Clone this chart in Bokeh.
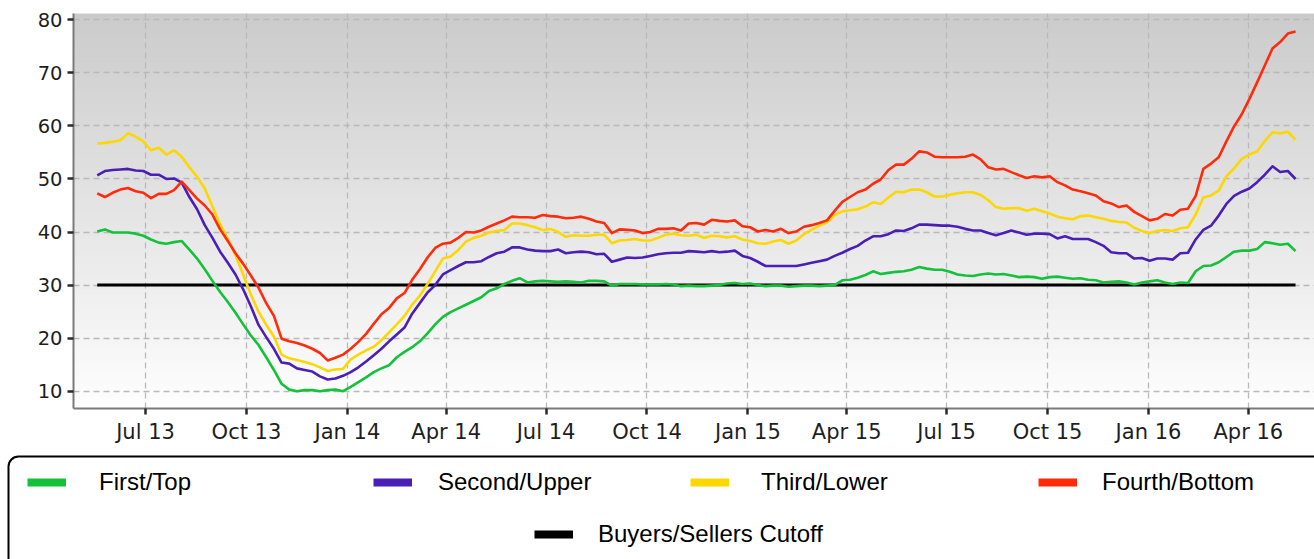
import pandas as pd
from bokeh.plotting import figure
from bokeh.models import (Range1d, FixedTicker, DatetimeTickFormatter, BoxAnnotation,
                          Legend, LegendItem, ColumnDataSource)
from bokeh.core.properties import value
from bokeh.layouts import column
from bokeh.embed import file_html
from bokeh.resources import INLINE

# ---------------- data (weekly readings) ----------------
start_date = "2013-05-18"
n_weeks = 157

first_top = [
    40.1, 40.5, 39.9, 39.9, 39.9, 39.7, 39.3, 38.6, 38.0, 37.8, 38.1, 38.3, 36.7, 35.0, 33.0, 30.8,
    28.7, 26.8, 24.8, 22.6, 20.5, 18.7, 16.4, 14.0, 11.4, 10.3, 10.0, 10.2, 10.2, 10.0, 10.2, 10.3,
    10.0, 10.8, 11.7, 12.6, 13.6, 14.3, 14.9, 16.4, 17.4, 18.3, 19.4, 20.9, 22.6, 24.0, 24.9, 25.6,
    26.3, 27.0, 27.7, 28.9, 29.4, 30.2, 30.8, 31.3, 30.5, 30.7, 30.8, 30.7, 30.6, 30.7, 30.6, 30.5,
    30.8, 30.8, 30.7, 29.9, 30.2, 30.2, 30.2, 30.1, 30.1, 30.1, 30.2, 30.1, 29.8, 29.9, 29.8, 29.8,
    29.9, 30.0, 30.3, 30.4, 30.2, 30.3, 30.0, 29.8, 29.9, 29.9, 29.7, 29.8, 29.9, 29.9, 29.8, 29.9,
    30.0, 30.9, 31.0, 31.4, 31.9, 32.6, 32.1, 32.3, 32.5, 32.6, 32.9, 33.4, 33.1, 32.9, 32.9, 32.5,
    32.0, 31.8, 31.7, 32.0, 32.2, 32.0, 32.1, 31.8, 31.5, 31.6, 31.5, 31.2, 31.5, 31.6, 31.4, 31.2,
    31.3, 31.0, 30.9, 30.5, 30.6, 30.7, 30.5, 30.1, 30.5, 30.7, 30.9, 30.5, 30.2, 30.5, 30.4, 32.6,
    33.6, 33.7, 34.3, 35.3, 36.3, 36.5, 36.5, 36.8, 38.1, 37.9, 37.6, 37.8, 36.4,
]

second_upper = [
    50.7, 51.5, 51.7, 51.8, 51.9, 51.6, 51.5, 50.8, 50.8, 50.0, 50.1, 49.3, 46.6, 44.3, 41.3, 38.9,
    36.3, 34.2, 32.0, 29.2, 26.0, 22.5, 20.2, 18.0, 15.4, 15.2, 14.3, 14.0, 13.7, 12.8, 12.2, 12.4,
    12.9, 13.6, 14.5, 15.6, 16.8, 18.0, 19.4, 20.7, 22.0, 24.6, 26.6, 28.6, 30.0, 32.0, 32.8, 33.6,
    34.3, 34.3, 34.5, 35.3, 36.0, 36.3, 37.1, 37.1, 36.7, 36.5, 36.4, 36.4, 36.7, 36.0, 36.2, 36.3,
    36.2, 35.8, 35.9, 34.4, 34.8, 35.2, 35.1, 35.2, 35.5, 35.8, 36.0, 36.1, 36.1, 36.4, 36.3, 36.2,
    36.4, 36.2, 36.3, 36.5, 35.5, 35.1, 34.4, 33.6, 33.6, 33.6, 33.6, 33.6, 33.9, 34.2, 34.5, 34.8,
    35.5, 36.1, 36.8, 37.4, 38.4, 39.2, 39.2, 39.6, 40.3, 40.2, 40.7, 41.4, 41.4, 41.3, 41.2, 41.2,
    41.0, 40.6, 40.3, 40.3, 39.8, 39.4, 39.8, 40.3, 39.9, 39.5, 39.7, 39.7, 39.6, 38.8, 39.2, 38.7,
    38.7, 38.7, 38.1, 37.4, 36.2, 36.0, 36.0, 35.0, 35.1, 34.6, 35.0, 35.0, 34.8, 36.0, 36.1, 38.6,
    40.4, 41.2, 43.1, 45.3, 46.8, 47.6, 48.2, 49.4, 50.8, 52.4, 51.3, 51.5, 50.0,
]

third_lower = [
    56.7, 56.8, 57.0, 57.3, 58.6, 58.0, 57.1, 55.4, 55.9, 54.6, 55.4, 54.2, 52.2, 50.4, 48.2, 44.8,
    41.5, 38.7, 35.6, 32.0, 28.2, 25.0, 22.5, 20.3, 16.9, 16.2, 15.9, 15.5, 15.1, 14.5, 13.8, 14.1,
    14.2, 16.0, 16.9, 17.7, 18.4, 19.6, 21.1, 22.6, 24.2, 26.3, 28.0, 30.2, 32.6, 35.0, 35.4, 36.6,
    38.2, 38.9, 39.3, 39.9, 40.2, 40.4, 41.6, 41.6, 41.3, 40.9, 40.4, 40.6, 40.0, 39.1, 39.4, 39.3,
    39.3, 39.5, 39.5, 37.9, 38.4, 38.5, 38.7, 38.4, 38.4, 38.9, 39.5, 39.7, 39.4, 39.3, 39.5, 38.9,
    39.3, 39.2, 39.0, 39.2, 38.6, 38.3, 37.9, 37.8, 38.2, 38.5, 37.8, 38.4, 39.6, 40.4, 41.2, 41.8,
    43.2, 43.9, 44.1, 44.3, 44.8, 45.6, 45.3, 46.5, 47.6, 47.5, 48.0, 48.0, 47.5, 46.7, 46.7, 47.0,
    47.3, 47.5, 47.5, 47.0, 46.0, 44.7, 44.4, 44.5, 44.5, 44.0, 44.4, 43.9, 43.5, 42.9, 42.6, 42.4,
    43.0, 43.1, 42.8, 42.5, 42.1, 41.9, 41.8, 40.8, 40.2, 39.8, 40.2, 40.4, 40.2, 40.7, 40.9, 43.3,
    46.5, 46.9, 47.8, 50.5, 52.0, 53.8, 54.6, 55.2, 57.2, 58.8, 58.6, 58.9, 57.4,
]

fourth_bottom = [
    47.3, 46.6, 47.4, 48.0, 48.3, 47.7, 47.4, 46.4, 47.2, 47.2, 47.9, 49.5, 47.9, 46.3, 45.0, 43.3,
    40.5, 38.3, 36.0, 34.0, 31.8, 29.5, 26.6, 24.2, 19.9, 19.4, 19.1, 18.6, 18.0, 17.2, 15.8, 16.3,
    16.9, 18.0, 19.3, 20.8, 22.7, 24.5, 25.7, 27.5, 28.5, 31.0, 33.0, 35.2, 37.0, 37.8, 38.0, 38.9,
    40.0, 39.9, 40.3, 41.0, 41.6, 42.2, 42.9, 42.8, 42.8, 42.7, 43.2, 43.0, 42.9, 42.6, 42.7, 42.9,
    42.5, 42.0, 41.7, 39.8, 40.5, 40.4, 40.3, 39.8, 40.0, 40.6, 40.6, 40.7, 40.3, 41.6, 41.7, 41.4,
    42.3, 42.1, 42.0, 42.2, 41.1, 40.9, 40.1, 40.4, 40.1, 40.6, 39.8, 40.1, 41.0, 41.3, 41.7, 42.2,
    44.0, 45.7, 46.6, 47.5, 48.0, 49.1, 49.9, 51.7, 52.7, 52.7, 53.8, 55.2, 55.0, 54.2, 54.1, 54.1,
    54.1, 54.2, 54.6, 53.7, 52.2, 51.8, 51.9, 51.3, 50.7, 50.2, 50.5, 50.3, 50.5, 49.4, 48.8, 48.0,
    47.7, 47.3, 46.9, 45.8, 45.4, 44.7, 45.0, 43.8, 43.0, 42.2, 42.5, 43.4, 43.1, 44.2, 44.4, 46.8,
    51.9, 52.9, 54.1, 57.1, 59.9, 62.2, 65.1, 68.2, 71.4, 74.6, 75.8, 77.4, 77.8,
]

cutoff_value = 30

series_names = ["First/Top", "Second/Upper", "Third/Lower", "Fourth/Bottom"]
cutoff_name = "Buyers/Sellers Cutoff"

tick_dates = ["2013-07-01", "2013-10-01", "2014-01-01", "2014-04-01", "2014-07-01",
              "2014-10-01", "2015-01-01", "2015-04-01", "2015-07-01", "2015-10-01",
              "2016-01-01", "2016-04-01"]
y_ticks = [10, 20, 30, 40, 50, 60, 70, 80]

# ---------------- styling ----------------
colors = ["#14c13a", "#4a1fb6", "#fdd700", "#ff2b0b"]
cutoff_color = "#000000"
AX_FONT = "DejaVu Sans"
LEG_FONT = "Liberation Sans"

W = 1314
H_MAIN = 452
H_LEG = 107

dates = pd.date_range(start_date, periods=n_weeks, freq="7D")
src = ColumnDataSource(dict(date=dates, s0=first_top, s1=second_upper,
                            s2=third_lower, s3=fourth_bottom))

x_start = pd.Timestamp("2013-04-26 09:00")
x_end = pd.Timestamp("2016-05-31 07:00")
y_start, y_end = 6.74, 81.19

p = figure(width=W, height=H_MAIN, x_axis_type="datetime",
           x_range=Range1d(x_start, x_end), y_range=Range1d(y_start, y_end),
           output_backend="svg", toolbar_location=None,
           min_border_left=73, min_border_right=0, min_border_top=13,
           min_border_bottom=H_MAIN - 408)
p.outline_line_color = None
p.background_fill_color = "#ffffff"
p.border_fill_color = "#ffffff"

# vertical gradient background (dark grey at top -> white at bottom)
n_bands = 80
top_c = (0xcb, 0xcb, 0xcb)
bot_c = (0xfe, 0xfe, 0xfe)
band_h = (y_end - y_start) / n_bands
for k in range(n_bands):
    t = (k + 0.5) / n_bands
    c = tuple(int(round(bot_c[i] + (top_c[i] - bot_c[i]) * t)) for i in range(3))
    p.add_layout(BoxAnnotation(bottom=y_start + k * band_h,
                               top=y_start + (k + 1.6) * band_h,
                               fill_color="#%02x%02x%02x" % c, fill_alpha=1.0,
                               line_color=None, level="image"))

# grids
p.grid.grid_line_color = "#b9b9b9"
p.grid.grid_line_dash = "6 4"
p.grid.grid_line_width = 1.3

# axes
p.xaxis.ticker = FixedTicker(ticks=[pd.Timestamp(d).timestamp() * 1000 for d in tick_dates])
fmt = "%b %y"
p.xaxis.formatter = DatetimeTickFormatter(milliseconds=fmt, seconds=fmt, minsec=fmt, minutes=fmt,
                                          hourmin=fmt, hours=fmt, days=fmt, months=fmt, years=fmt)
p.yaxis.ticker = FixedTicker(ticks=y_ticks)
for ax in (p.xaxis, p.yaxis):
    ax.axis_line_color = "#7a7a7a"
    ax.axis_line_width = 2
    ax.major_tick_line_color = "#2a2a2a"
    ax.major_tick_line_width = 2.5
    ax.major_tick_out = 6
    ax.major_tick_in = 0
    ax.minor_tick_line_color = None
    ax.major_label_text_font = AX_FONT
    ax.major_label_text_color = "#1e1e1e"
p.xaxis.major_label_text_font_size = "21px"
p.yaxis.major_label_text_font_size = "19.5px"
p.xaxis.major_label_standoff = 5
p.yaxis.major_label_standoff = 5

# lines
p.line(x=[dates[0], dates[-1]], y=[cutoff_value, cutoff_value],
       line_color=cutoff_color, line_width=3)
for i, col in enumerate(["s0", "s1", "s2", "s3"]):
    p.line(x="date", y=col, source=src, line_color=colors[i], line_width=2.6,
           line_join="round")

# ---------------- legend panel ----------------
lg = figure(width=W, height=H_LEG, x_range=Range1d(0, W), y_range=Range1d(0, H_LEG),
            output_backend="svg", toolbar_location=None,
            x_axis_location=None, y_axis_location=None, min_border=0,
            min_border_left=0, min_border_right=0, min_border_top=0, min_border_bottom=0)
lg.outline_line_color = None
lg.grid.visible = False
lg.background_fill_color = "#ffffff"
lg.border_fill_color = "#ffffff"

for fig in (p, lg):
    if "frame_align" in fig.properties():
        fig.frame_align = False

lg.add_layout(BoxAnnotation(left=8, right=W + 200, top=H_LEG - 4, bottom=-60,
                            fill_color="#ffffff", fill_alpha=1.0,
                            line_color="#000000", line_alpha=1.0, line_width=2,
                            border_radius=10, level="underlay"))

# (x of swatch, y of legend bottom, gap swatch->label)
leg_pos = [(27, 63, 33), (373, 63, 26), (690, 63, 32), (1038, 63, 25), (534, 11, 25)]
all_names = series_names + [cutoff_name]
all_colors = colors + [cutoff_color]
nan = float("nan")
for name, c, (lx, ly, gap) in zip(all_names, all_colors, leg_pos):
    # legend swatch proxy (a NaN point draws nothing in the panel)
    r = lg.line(x=[nan], y=[nan], line_color=c, line_width=8, line_cap="butt")
    leg = Legend(items=[LegendItem(label=value(name), renderers=[r])],
                 location=(lx, ly), orientation="horizontal",
                 padding=0, margin=0, spacing=0,
                 glyph_width=39, glyph_height=28, label_height=28, label_standoff=gap,
                 label_text_font=LEG_FONT, label_text_font_size="24px",
                 label_text_color="#000000",
                 border_line_color=None, background_fill_alpha=0)
    lg.add_layout(leg)

layout = column(p, lg)
open("out.html", "w").write(file_html(layout, INLINE))
